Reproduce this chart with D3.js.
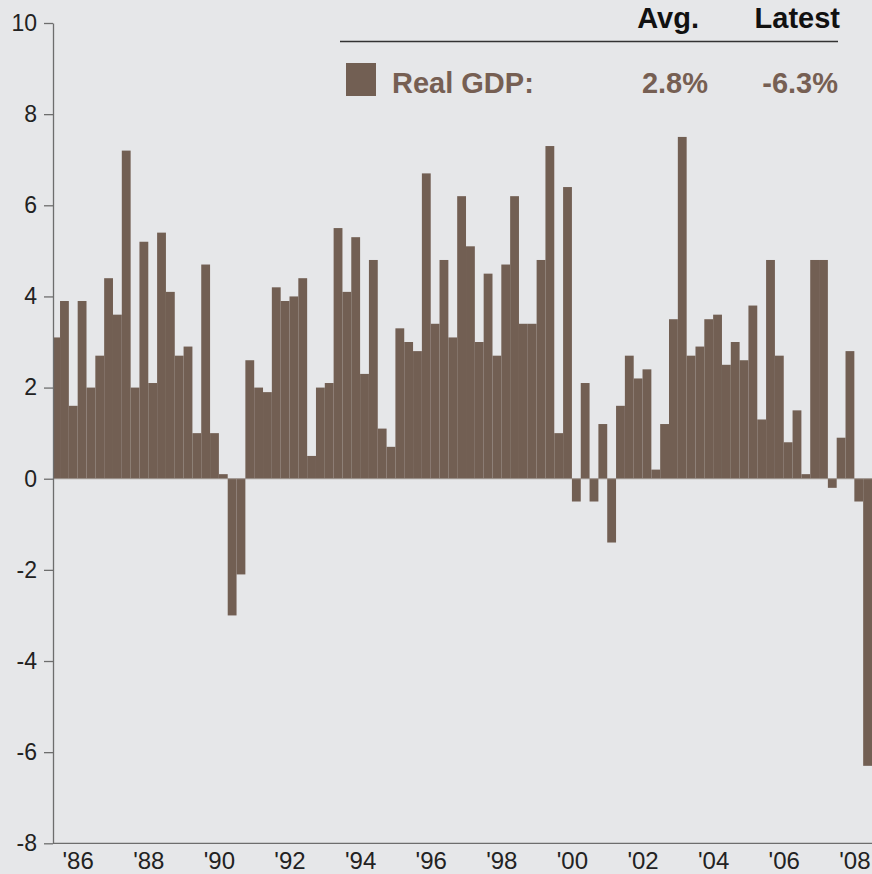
<!DOCTYPE html>
<html>
<head>
<meta charset="utf-8">
<script src="https://cdn.jsdelivr.net/npm/d3@7"></script>
<style>
  html, body { margin: 0; padding: 0; background: #e6e7e9; }
  svg { display: block; font-family: "Liberation Sans", Arial, sans-serif; }
  .y-axis text, .x-axis text { fill: #222; }
  .legend-head { font-weight: bold; fill: #111; font-size: 29px; }
  .legend-val { font-weight: bold; fill: #765f53; font-size: 29px; }
</style>
</head>
<body>
<svg id="chart" width="872" height="874"></svg>
<script>
// quarterly real GDP growth, % annualized, 1985 Q4 .. 2008 Q4
let startYear = 1985.75;
let gdp = [
  3.1,
  3.9, 1.6, 3.9, 2.0,   // 1986
  2.7, 4.4, 3.6, 7.2,   // 1987
  2.0, 5.2, 2.1, 5.4,   // 1988
  4.1, 2.7, 2.9, 1.0,   // 1989
  4.7, 1.0, 0.1, -3.0,  // 1990
  -2.1, 2.6, 2.0, 1.9,  // 1991
  4.2, 3.9, 4.0, 4.4,   // 1992
  0.5, 2.0, 2.1, 5.5,   // 1993
  4.1, 5.3, 2.3, 4.8,   // 1994
  1.1, 0.7, 3.3, 3.0,   // 1995
  2.8, 6.7, 3.4, 4.8,   // 1996
  3.1, 6.2, 5.1, 3.0,   // 1997
  4.5, 2.7, 4.7, 6.2,   // 1998
  3.4, 3.4, 4.8, 7.3,   // 1999
  1.0, 6.4, -0.5, 2.1,  // 2000
  -0.5, 1.2, -1.4, 1.6, // 2001
  2.7, 2.2, 2.4, 0.2,   // 2002
  1.2, 3.5, 7.5, 2.7,   // 2003
  2.9, 3.5, 3.6, 2.5,   // 2004
  3.0, 2.6, 3.8, 1.3,   // 2005
  4.8, 2.7, 0.8, 1.5,   // 2006
  0.1, 4.8, 4.8, -0.2,  // 2007
  0.9, 2.8, -0.5, -6.3  // 2008
];
let yTicks = [-8, -6, -4, -2, 0, 2, 4, 6, 8, 10];
let yearLabels = [1986, 1988, 1990, 1992, 1994, 1996, 1998, 2000, 2002, 2004, 2006, 2008];
let legendHeads = ['Avg.', 'Latest'];
let legendName = 'Real GDP:';
let legendVals = ['2.8%', '-6.3%'];

let barColor = '#725f53';
let svg = d3.select('#chart');

let x = d3.scaleLinear().domain([startYear, 2009]).range([51.2, 872]);
let y = d3.scaleLinear().domain([-8, 10]).range([843.3, 23]);
let left = 53;

let data = gdp.map((v, i) => ({t: startYear + i / 4, v: v}));
let bw = x(startYear + 0.25) - x(startYear);

svg.append('clipPath').attr('id', 'plot')
  .append('rect')
  .attr('x', left).attr('y', 0)
  .attr('width', 872 - left).attr('height', 874);

svg.append('g')
  .attr('clip-path', 'url(#plot)')
  .selectAll('rect')
  .data(data)
  .enter().append('rect')
  .attr('x', d => x(d.t))
  .attr('width', bw)
  .attr('y', d => y(Math.max(0, d.v)))
  .attr('height', d => Math.abs(y(d.v) - y(0)))
  .attr('fill', barColor);

// zero line
svg.append('line')
  .attr('x1', left).attr('x2', 872)
  .attr('y1', y(0)).attr('y2', y(0))
  .attr('stroke', '#9a918b').attr('stroke-width', 1);

let yAxis = svg.append('g')
  .attr('class', 'y-axis')
  .attr('transform', 'translate(' + left + ',0)')
  .call(d3.axisLeft(y).tickValues(yTicks).tickFormat(d => String(d))
    .tickSize(9).tickPadding(7).tickSizeOuter(0));
yAxis.selectAll('text').style('font-size', '23px');
yAxis.selectAll('line, path').attr('stroke', '#6d6d6d').attr('stroke-width', 1.3);

let xAxis = svg.append('g')
  .attr('class', 'x-axis')
  .attr('transform', 'translate(0,' + y(-8) + ')')
  .call(d3.axisBottom(x)
    .tickValues(yearLabels.map(yr => yr + 0.5))
    .tickFormat(t => "'" + String(Math.floor(t)).slice(2))
    .tickSize(0).tickPadding(9).tickSizeOuter(0));
xAxis.select('.domain').attr('d', 'M' + left + ',0H872');
xAxis.selectAll('path').attr('stroke', '#6d6d6d').attr('stroke-width', 1.3);
xAxis.selectAll('text').style('font-size', '24px');

// legend
let lg = svg.append('g');
lg.append('line')
  .attr('x1', 340).attr('x2', 838)
  .attr('y1', 41.5).attr('y2', 41.5)
  .attr('stroke', '#333').attr('stroke-width', 1.6);
let headX = [699, 840];
let valX = [708, 838];
lg.selectAll('.legend-head')
  .data(legendHeads)
  .enter().append('text')
  .attr('class', 'legend-head')
  .attr('x', (d, i) => headX[i]).attr('y', 27.5)
  .attr('text-anchor', 'end')
  .text(d => d);
lg.append('rect')
  .attr('x', 346).attr('y', 63)
  .attr('width', 30).attr('height', 33)
  .attr('fill', barColor);
lg.append('text')
  .attr('class', 'legend-val')
  .attr('x', 392).attr('y', 92.5)
  .text(legendName);
lg.selectAll('.lv')
  .data(legendVals)
  .enter().append('text')
  .attr('class', 'legend-val')
  .attr('x', (d, i) => valX[i]).attr('y', 92.5)
  .attr('text-anchor', 'end')
  .text(d => d);
</script>
</body>
</html>
